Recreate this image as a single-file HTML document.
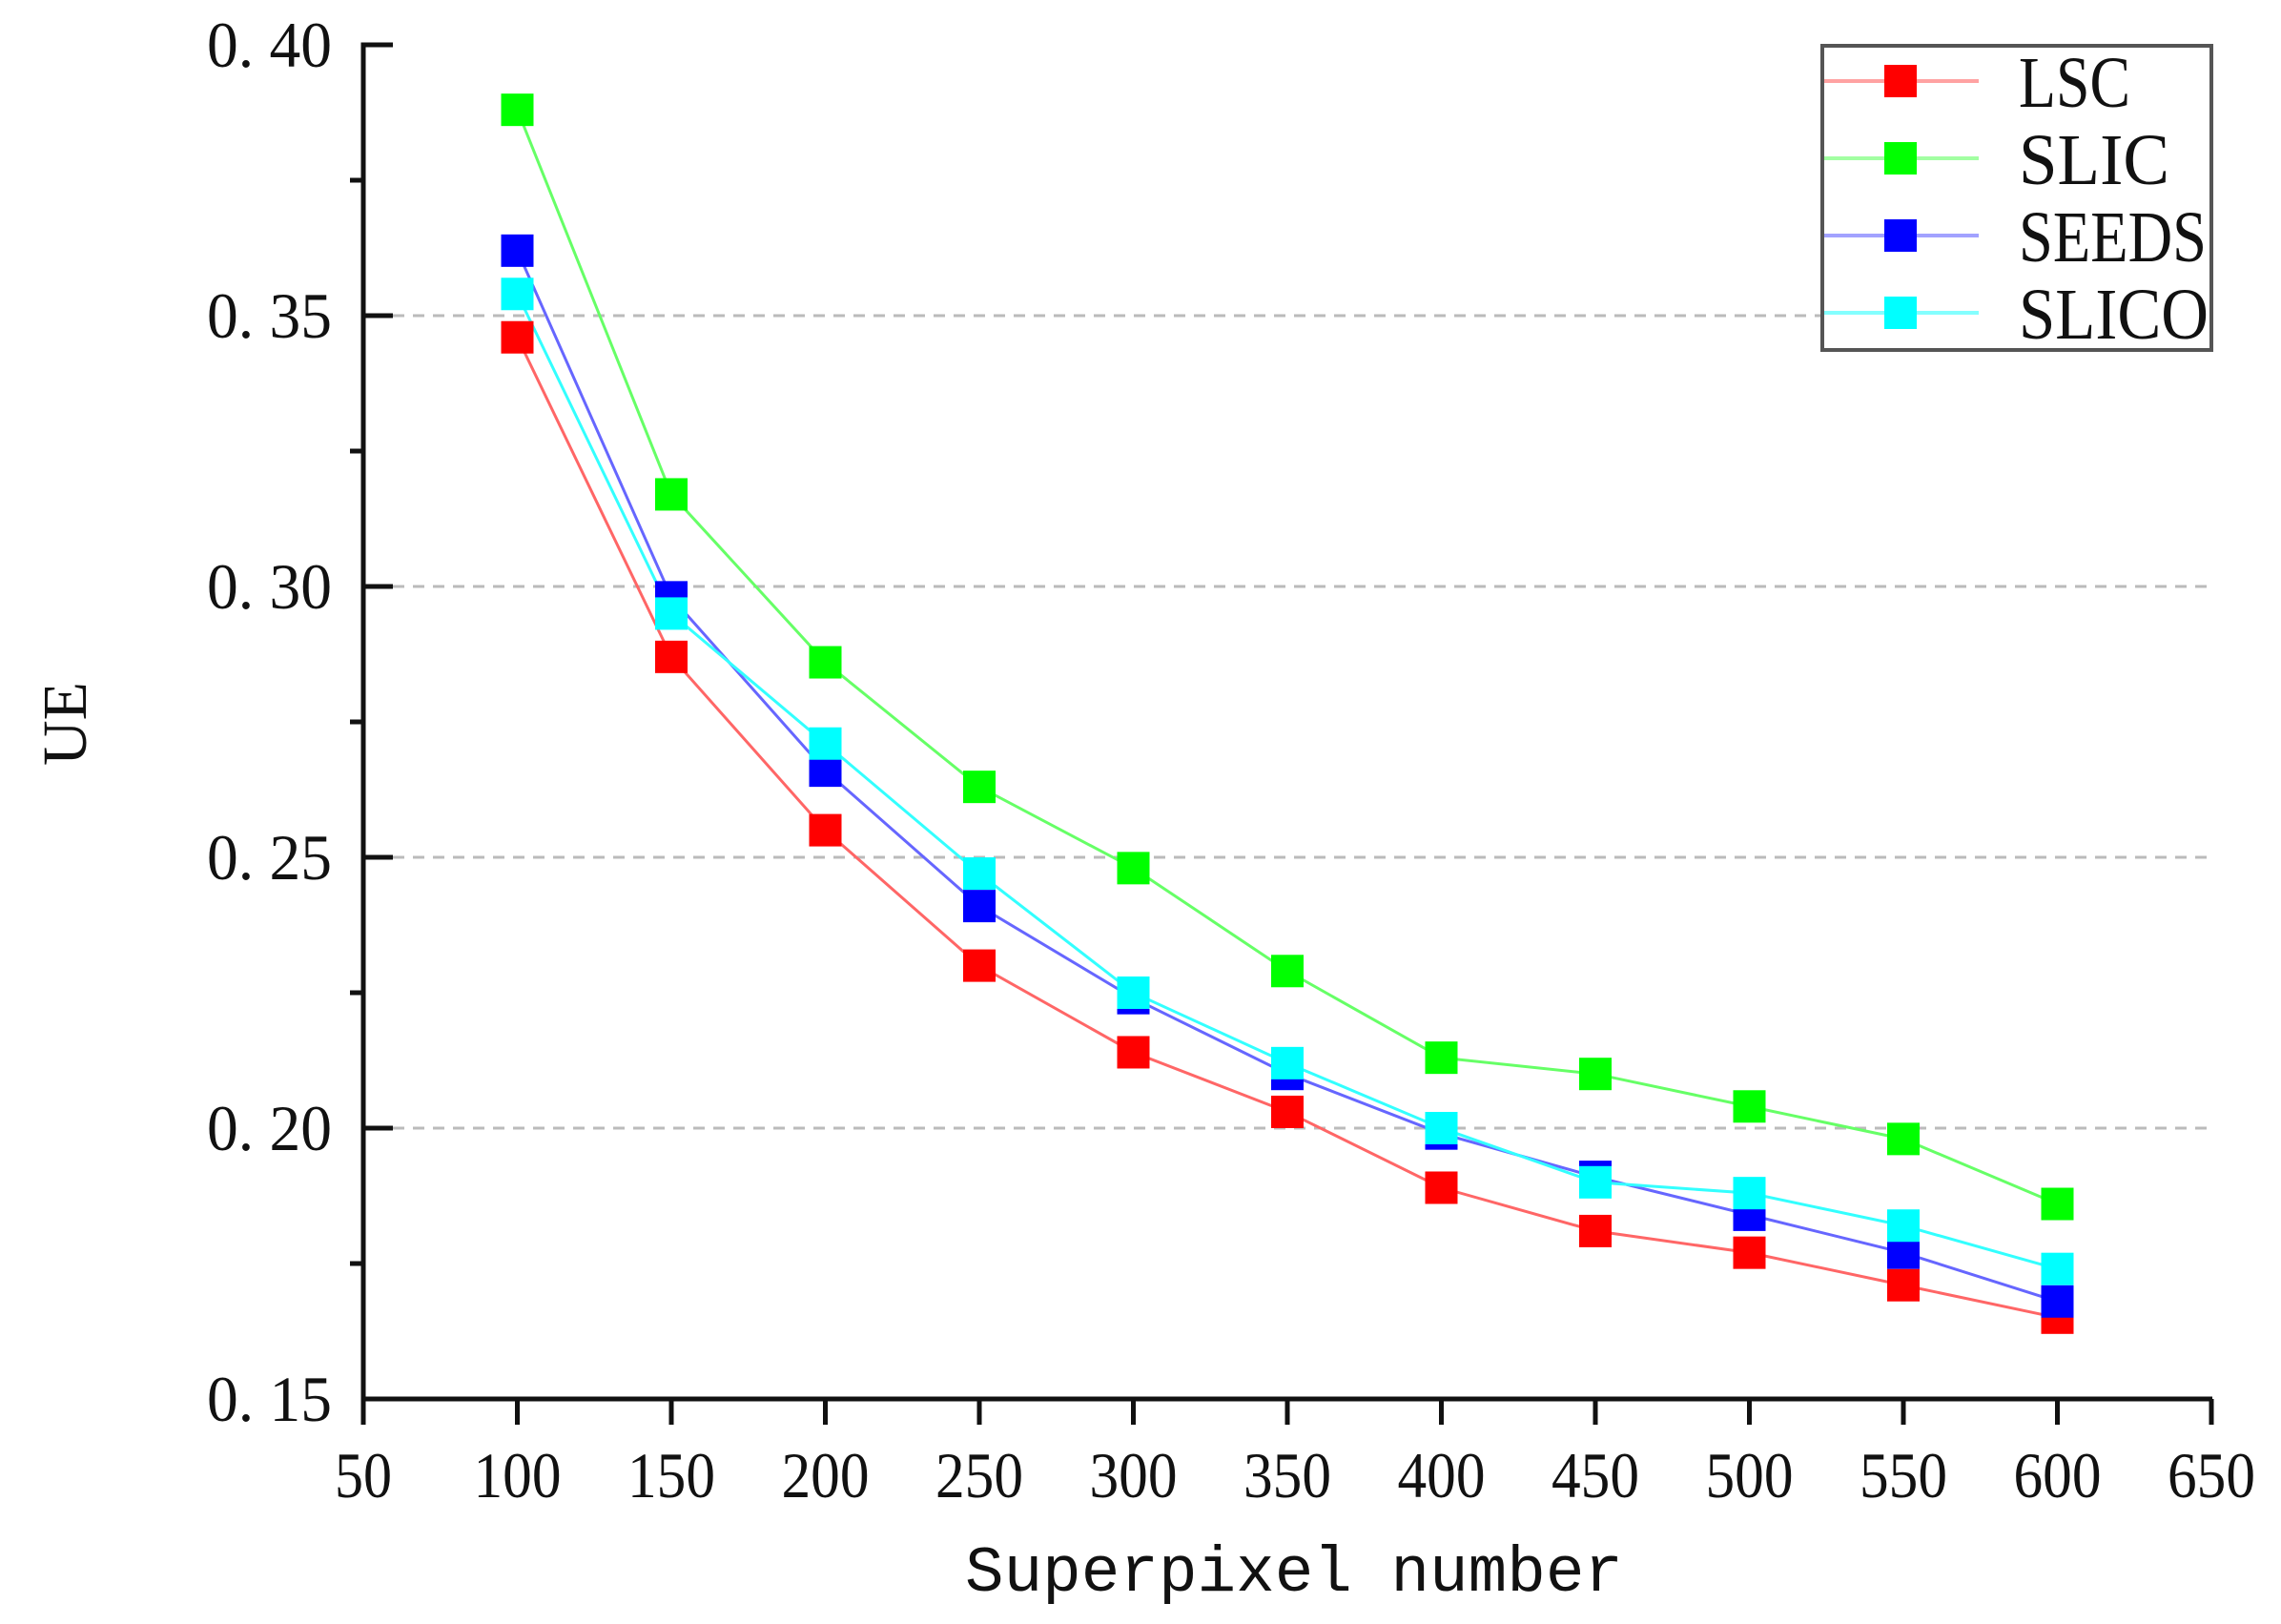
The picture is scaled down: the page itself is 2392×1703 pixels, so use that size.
<!DOCTYPE html>
<html><head><meta charset="utf-8"><style>html,body{margin:0;padding:0;background:#fff}svg{display:block}</style></head>
<body>
<svg id="s" width="2392" height="1703" viewBox="0 0 2392 1703" xmlns="http://www.w3.org/2000/svg" font-family="Liberation Serif, serif">
<rect width="2392" height="1703" fill="#fff"/>
<g id="grid" stroke="#bbb" stroke-width="3" stroke-dasharray="12,9">
<line x1="412" y1="331" x2="2322" y2="331"/>
<line x1="412" y1="615" x2="2322" y2="615"/>
<line x1="412" y1="899" x2="2322" y2="899"/>
<line x1="412" y1="1183" x2="2322" y2="1183"/>
</g>
<g id="series"></g>
<g stroke="#111" stroke-width="5" fill="none">
<polyline points="412,47 381,47 381,1467 2320,1467"/>
<line x1="381" y1="331" x2="412" y2="331"/>
<line x1="381" y1="615" x2="412" y2="615"/>
<line x1="381" y1="899" x2="412" y2="899"/>
<line x1="381" y1="1183" x2="412" y2="1183"/>
<line x1="367" y1="189" x2="381" y2="189"/>
<line x1="367" y1="473" x2="381" y2="473"/>
<line x1="367" y1="757" x2="381" y2="757"/>
<line x1="367" y1="1041" x2="381" y2="1041"/>
<line x1="367" y1="1325" x2="381" y2="1325"/>
</g>
<g id="xt" stroke="#111" stroke-width="5"></g>
<g font-size="68" fill="#111" text-anchor="end">
<text x="348" y="70" textLength="131" lengthAdjust="spacingAndGlyphs">0. 40</text>
<text x="348" y="354" textLength="131" lengthAdjust="spacingAndGlyphs">0. 35</text>
<text x="348" y="638" textLength="131" lengthAdjust="spacingAndGlyphs">0. 30</text>
<text x="348" y="922" textLength="131" lengthAdjust="spacingAndGlyphs">0. 25</text>
<text x="348" y="1206" textLength="131" lengthAdjust="spacingAndGlyphs">0. 20</text>
<text x="348" y="1490" textLength="131" lengthAdjust="spacingAndGlyphs">0. 15</text>
</g>
<g id="xl" font-size="68" fill="#111" text-anchor="middle"></g>
<text x="1357" y="1668" font-family="Liberation Mono, monospace" font-size="68" text-anchor="middle" fill="#111" textLength="690" lengthAdjust="spacingAndGlyphs">Superpixel number</text>
<text transform="translate(90,759) rotate(-90)" font-size="66" text-anchor="middle" fill="#111">UE</text>
<rect x="1911" y="48" width="408" height="319" fill="#fff" stroke="#555" stroke-width="4"/>
<g id="leg"></g>
</svg>
<script>
const X=v=>381+(v-50)/50*161.5, Y=u=>47+(0.40-u)*5680;
const xs=[100,150,200,250,300,350,400,450,500,550,600];
const data=[
["LSC","#ff0000","#ff6666",[0.346,0.287,0.255,0.230,0.214,0.203,0.189,0.181,0.177,0.171,0.165],117],
["SLIC","#00ff00","#66ff66",[0.388,0.317,0.286,0.263,0.248,0.229,0.213,0.210,0.204,0.198,0.186],158],
["SEEDS","#0000ff","#6666ff",[0.362,0.298,0.266,0.241,0.224,0.210,0.199,0.191,0.184,0.177,0.168],197],
["SLICO","#00ffff","#33ffff",[0.354,0.295,0.271,0.247,0.225,0.212,0.200,0.190,0.188,0.182,0.174],199]];
const ns="http://www.w3.org/2000/svg";
function el(p,t,a,txt){const e=document.createElementNS(ns,t);for(const k in a)e.setAttribute(k,a[k]);if(txt)e.textContent=txt;document.getElementById(p).appendChild(e);}
data.forEach(d=>el("series","polyline",{points:xs.map((x,i)=>X(x)+","+Y(d[3][i])).join(" "),fill:"none",stroke:d[2],"stroke-width":3}));
data.forEach(d=>xs.forEach((x,i)=>el("series","rect",{x:X(x)-17,y:Y(d[3][i])-17,width:34,height:34,fill:d[1]})));
for(let v=50;v<=650;v+=50){el("xt","line",{x1:X(v),y1:1467,x2:X(v),y2:1494});el("xl","text",{x:X(v),y:1570,textLength:(v<100?60:92),lengthAdjust:"spacingAndGlyphs"},String(v));}
data.forEach((d,i)=>{const y=85+i*81;el("leg","line",{x1:1913,y1:y,x2:2075,y2:y,stroke:d[2],"stroke-width":4,opacity:0.6});
el("leg","rect",{x:1976,y:y-17,width:34,height:34,fill:d[1]});
el("leg","text",{x:2117,y:y+27,"font-size":76,fill:"#111",textLength:d[4],lengthAdjust:"spacingAndGlyphs"},d[0]);});
</script>
</body></html>
